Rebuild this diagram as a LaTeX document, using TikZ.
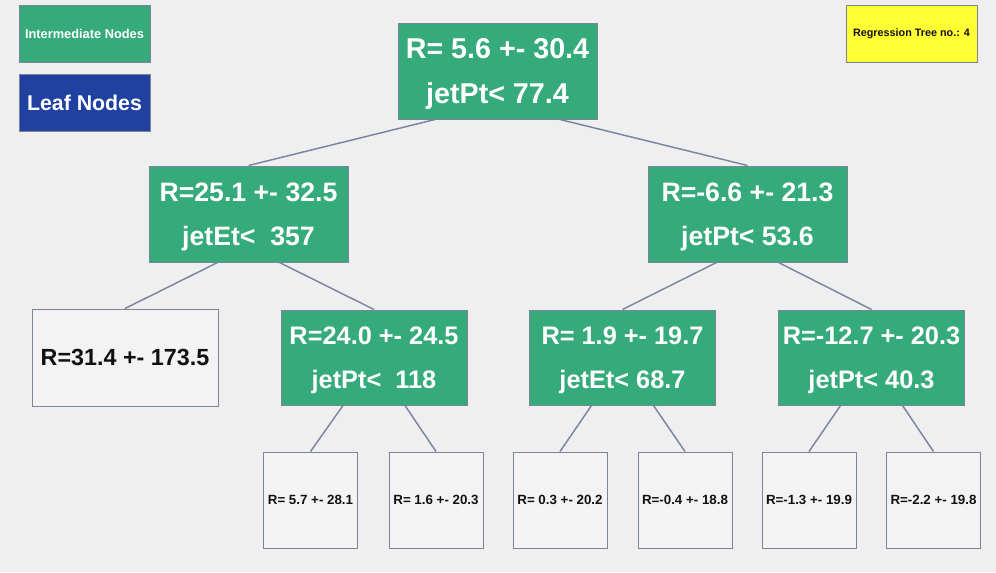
\documentclass[tikz,border=0pt]{standalone}
\usepackage{fontspec}
\setmainfont{Liberation Sans}
\definecolor{bg}{HTML}{EFEFEF}
\definecolor{gnode}{HTML}{35AB7B}
\definecolor{bnode}{HTML}{2141A1}
\definecolor{bord}{HTML}{7B8599}
\definecolor{edgec}{HTML}{7A86A0}
\definecolor{leaff}{HTML}{F3F3F3}
\definecolor{ylw}{HTML}{FFFF33}
\definecolor{txt}{HTML}{111111}
\begin{document}
\begin{tikzpicture}[x=0.75pt,y=-0.75pt,
  base/.style={draw=bord,line width=0.75pt,inner sep=0pt},
  inner/.style={base,fill=gnode,text=white,minimum width=149.25pt,minimum height=72pt,align=center,
    text depth=0pt,font=\bfseries\fontsize{20}{33}\selectfont},
  innerroot/.style={inner,font=\bfseries\fontsize{21.5}{33.75}\selectfont},
  innersm/.style={inner,minimum width=139.5pt,minimum height=71.25pt,font=\bfseries\fontsize{19}{33}\selectfont},
  bigleaf/.style={base,fill=leaff,text=txt,minimum width=139.5pt,minimum height=72.75pt,
    font=\bfseries\fontsize{17.5}{21}\selectfont},
  smleaf/.style={base,fill=leaff,text=txt,minimum width=70.5pt,minimum height=72pt,
    font=\bfseries\fontsize{10}{12}\selectfont},
  legend/.style={base,minimum width=98.25pt,minimum height=42.75pt},
  edge/.style={draw=edgec,line width=1.1pt}
]
\useasboundingbox[fill=bg] (0,0) rectangle (996,572);

% legend
\node[legend,fill=gnode,text=white,font=\bfseries\fontsize{9.6}{11}\selectfont] (legI) at (84.5,33.5) {Intermediate Nodes};
\node[legend,fill=bnode,text=white,font=\bfseries\fontsize{16}{19}\selectfont] (legL) at (84.5,102.5) {Leaf Nodes};
\node[legend,fill=ylw,text=txt,font=\bfseries\fontsize{8.1}{10}\selectfont] (title) at (911.5,33.5) {Regression Tree no.: 4};

% tree
\node[innerroot] (root) at (497.5,71) {R= 5.6 +- 30.4\\jetPt< 77.4};
\node[inner] (n1) at (248.5,214) {R=25.1 +- 32.5\\jetEt< \ 357};
\node[inner] (n2) at (747.5,214) {R=-6.6 +- 21.3\\jetPt< 53.6};
\node[bigleaf] (l1) at (125,357.5) {R=31.4 +- 173.5};
\node[innersm] (n3) at (374,357.5) {R=24.0 +- 24.5\\jetPt< \ 118};
\node[innersm] (n4) at (622.5,357.5) {R= 1.9 +- 19.7\\jetEt< 68.7};
\node[innersm] (n5) at (871.5,357.5) {R=-12.7 +- 20.3\\jetPt< 40.3};
\node[smleaf] (l2) at (310.5,500) {R= 5.7 +- 28.1};
\node[smleaf] (l3) at (436,500) {R= 1.6 +- 20.3};
\node[smleaf] (l4) at (560,500) {R= 0.3 +- 20.2};
\node[smleaf] (l5) at (685,500) {R=-0.4 +- 18.8};
\node[smleaf] (l6) at (809,500) {R=-1.3 +- 19.9};
\node[smleaf] (l7) at (933.5,500) {R=-2.2 +- 19.8};

% connectors
\draw[edge] ([xshift=-46.9pt]root.south) -- (n1.north);
\draw[edge] ([xshift=46.9pt]root.south) -- (n2.north);
\draw[edge] ([xshift=-23.25pt]n1.south) -- (l1.north);
\draw[edge] ([xshift=23.25pt]n1.south) -- (n3.north);
\draw[edge] ([xshift=-23.25pt]n2.south) -- (n4.north);
\draw[edge] ([xshift=23.25pt]n2.south) -- (n5.north);
\draw[edge] ([xshift=-23.25pt]n3.south) -- (l2.north);
\draw[edge] ([xshift=23.25pt]n3.south) -- (l3.north);
\draw[edge] ([xshift=-23.25pt]n4.south) -- (l4.north);
\draw[edge] ([xshift=23.25pt]n4.south) -- (l5.north);
\draw[edge] ([xshift=-23.25pt]n5.south) -- (l6.north);
\draw[edge] ([xshift=23.25pt]n5.south) -- (l7.north);
\end{tikzpicture}
\end{document}
